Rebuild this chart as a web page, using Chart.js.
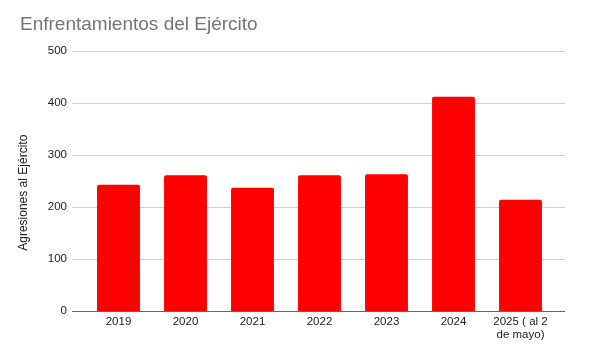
<!DOCTYPE html>
<html>
<head>
<meta charset="utf-8">
<script src="https://cdn.jsdelivr.net/npm/chart.js@4"></script>
<style>
  html, body { margin: 0; padding: 0; background: #ffffff; }
  #wrap { width: 600px; height: 356px; position: relative; }
</style>
</head>
<body>
<div id="wrap"><canvas id="c" width="600" height="356"></canvas></div>
<script>
const titleText = "Enfrentamientos del Ejército";
const yAxisTitle = "Agresiones al Ejército";
const categories = ["2019", "2020", "2021", "2022", "2023", "2024", ["2025 ( al 2", "de mayo)"]];
const values = [243, 261, 237, 261, 263, 412, 214];
const yTicks = [0, 100, 200, 300, 400, 500];

const FONT = "'Liberation Sans', Arial, Helvetica, sans-serif";

const gridPlugin = {
  id: 'extGrid',
  beforeDatasetsDraw(chart) {
    const {ctx, chartArea, scales} = chart;
    const y = scales.y;
    const x0 = chartArea.left - 13, x1 = chartArea.right + 11;
    ctx.save();
    ctx.lineWidth = 1;
    ctx.strokeStyle = '#d0d0d0';
    yTicks.forEach(v => {
      if (v === 0) return;
      const py = Math.round(y.getPixelForValue(v)) + 0.5;
      ctx.beginPath(); ctx.moveTo(x0, py); ctx.lineTo(x1, py); ctx.stroke();
    });
    ctx.restore();
  },
  afterDatasetsDraw(chart) {
    const {ctx, chartArea, scales} = chart;
    const y = scales.y;
    const x0 = chartArea.left - 13, x1 = chartArea.right + 11;
    ctx.save();
    ctx.lineWidth = 1;
    ctx.strokeStyle = '#666666';
    const py = Math.round(y.getPixelForValue(0)) + 0.5;
    ctx.beginPath(); ctx.moveTo(x0, py); ctx.lineTo(x1, py); ctx.stroke();
    ctx.restore();
  }
};

new Chart(document.getElementById('c'), {
  type: 'bar',
  data: {
    labels: categories,
    datasets: [{
      data: values,
      backgroundColor: '#ff0000',
      borderWidth: 0,
      borderRadius: 2,
      categoryPercentage: 1.0,
      barPercentage: 0.64
    }]
  },
  options: {
    responsive: false,
    animation: false,
    devicePixelRatio: 1,
    layout: { padding: { left: 20, right: 46, top: 0, bottom: 10 } },
    plugins: {
      legend: { display: false },
      tooltip: { enabled: false },
      title: {
        display: true,
        text: titleText,
        align: 'start',
        color: '#757575',
        font: { family: FONT, size: 19, weight: 'normal' },
        padding: { top: 13, bottom: 15 }
      }
    },
    scales: {
      x: {
        grid: { display: false, drawTicks: false },
        border: { display: false },
        ticks: {
          color: '#222222',
          font: { family: FONT, size: 11.5, lineHeight: 1.1 },
          padding: 4.7,
          maxRotation: 0,
          minRotation: 0,
          autoSkip: false
        }
      },
      y: {
        min: 0,
        max: 500,
        afterFit(scale) { scale.width = 65; },
        afterBuildTicks(scale) { scale.ticks = yTicks.map(v => ({ value: v })); },
        grid: { display: false, drawTicks: false },
        border: { display: false },
        ticks: {
          color: '#222222',
          font: { family: FONT, size: 11.5 },
          padding: 18
        },
        title: {
          display: true,
          text: yAxisTitle + "       ",
          color: '#222222',
          font: { family: FONT, size: 12, lineHeight: 0.6 },
          padding: { top: 0, bottom: 0 }
        }
      }
    }
  },
  plugins: [gridPlugin]
});
</script>
</body>
</html>
